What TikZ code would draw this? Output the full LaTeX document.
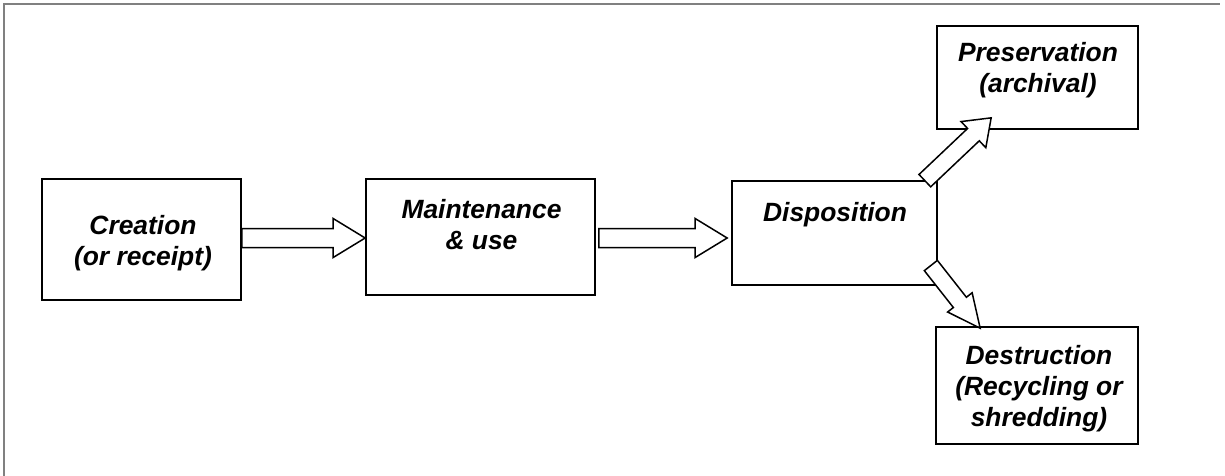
\documentclass[tikz,border=0pt]{standalone}
\usepackage{fontspec}
\setmainfont{Liberation Sans}
\usetikzlibrary{calc}
\newcommand{\fatarrow}[5]{%
  \path ($(#2)!#5!(#1)$) coordinate (fan);
  \draw[fat] ($(#1)!#3!90:(#2)$) -- ($(fan)!#3!90:(#2)$) -- ($(fan)!#4!90:(#2)$)
    -- (#2) -- ($(fan)!#4!-90:(#2)$) -- ($(fan)!#3!-90:(#2)$)
    -- ($(#1)!#3!-90:(#2)$) -- cycle;}
\begin{document}
\begin{tikzpicture}[x=1pt,y=-1pt,
  box/.style={draw=black, line width=1.7pt, fill=white, inner sep=0pt},
  lbl/.style={font=\fontsize{26.4}{31}\selectfont\bfseries\itshape, align=center, inner sep=0pt},
  fat/.style={draw=black, line width=1.5pt, fill=white, line join=miter},
  frameline/.style={draw=black!50, line width=2pt}]
\useasboundingbox (0,0) rectangle (1225,475);
\draw[frameline] (4,476) -- (4,4) -- (1220,4);

\node[box, minimum width=199pt, minimum height=121pt] (cre) at (141.5,239.5) {};
\node[box, minimum width=229pt, minimum height=116pt] (mai) at (480.5,237) {};
\node[box, minimum width=205pt, minimum height=104pt] (dis) at (834.5,233) {};
\node[box, minimum width=201pt, minimum height=103pt] (pre) at (1037.5,77.5) {};
\node[box, minimum width=202pt, minimum height=117pt] (des) at (1037,385.5) {};

\node[lbl] (creT) at (143,243) {Creation\\(or receipt)};
\node[lbl] (maiT) at (481.5,225) {Maintenance\\\& use};
\node[lbl] (disT) at (835,215) {Disposition};
\node[lbl] (preT) at (1038,70.5) {Preservation\\(archival)};
\node[lbl] (desT) at (1039,389) {Destruction\\(Recycling or\\shredding)};

\coordinate (a1s) at ($(cre.east)+(0,-1.5)$);
\coordinate (a1e) at ($(cre.east -| mai.west)+(0,-1.5)$);
\coordinate (a2s) at ($(mai.east)+(3,1)$);
\coordinate (a2e) at ($(mai.east -| dis.west)+(-4,1)$);
\coordinate (a3s) at ($(dis.north east)+(-13,0.5)$);
\coordinate (a3e) at ($(pre.south west)+(55,-12)$);
\coordinate (a4s) at ($(dis.east)+(-7,32.5)$);
\coordinate (a4e) at ($(des.north west)+(45,2)$);

\fatarrow{a1s}{a1e}{9.5pt}{19.5pt}{32pt}
\fatarrow{a2s}{a2e}{9.5pt}{19.5pt}{32pt}
\fatarrow{a3s}{a3e}{8.5pt}{18pt}{24.4pt}
\fatarrow{a4s}{a4e}{8.3pt}{15.6pt}{32.8pt}
\end{tikzpicture}
\end{document}
